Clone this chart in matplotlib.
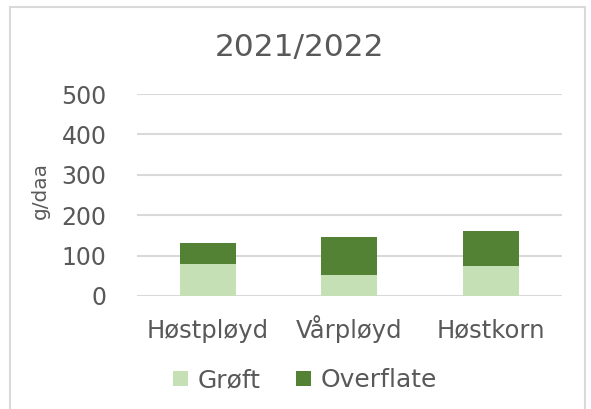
import matplotlib
matplotlib.use("Agg")
import matplotlib.pyplot as plt
from matplotlib.patches import Rectangle
import numpy as np

categories = ["Høstpløyd", "Vårpløyd", "Høstkorn"]
groft = [80, 53, 74]
overflate = [50, 92, 88]
yticks = [0, 100, 200, 300, 400, 500]

light = "#C5E0B4"
dark = "#548235"
grey_txt = "#595959"
grid_c = "#D9D9D9"

plt.rcParams["font.family"] = "DejaVu Sans"

fig = plt.figure(figsize=(5.91, 4.09), dpi=100)
ax = fig.add_axes([0.2318, 0.2763, 0.719, 0.4937])

x = np.arange(len(categories))
ax.bar(x, groft, width=0.395, color=light, label="Grøft", zorder=3)
ax.bar(x, overflate, width=0.395, bottom=groft, color=dark, label="Overflate", zorder=3)

ax.set_xlim(-0.5, 2.5)
ax.set_ylim(0, 500)
ax.set_yticks(yticks)
ax.set_yticklabels([str(v) for v in yticks], fontsize=17, color=grey_txt)
ax.set_xticks(x)
ax.set_xticklabels(categories, fontsize=17.5, color=grey_txt, va="baseline")
ax.tick_params(length=0)
ax.tick_params(axis="y", pad=22)
ax.tick_params(axis="x", pad=30)
ax.grid(axis="y", color=grid_c, lw=1.5, zorder=0)
for s in ax.spines.values():
    s.set_visible(False)

ax.set_ylabel("g/daa", fontsize=14.5, color=grey_txt)
ax.yaxis.set_label_coords(-0.205, 0.52)

fig.text(0.506, 0.885, "2021/2022", ha="center", va="center", fontsize=22.5, color=grey_txt)

fig.legend(loc="center", bbox_to_anchor=(0.516, 0.07), ncol=2, frameon=False,
           fontsize=18, labelcolor=grey_txt, handlelength=0.6, handleheight=0.6,
           handletextpad=0.4, columnspacing=1.4)

fig.add_artist(Rectangle((10 / 591, -0.05), 575 / 591, 1.05 - 7 / 409,
                         transform=fig.transFigure, fill=False,
                         edgecolor=grid_c, lw=1.5, clip_on=False))

fig.savefig("out.png", dpi=100)
